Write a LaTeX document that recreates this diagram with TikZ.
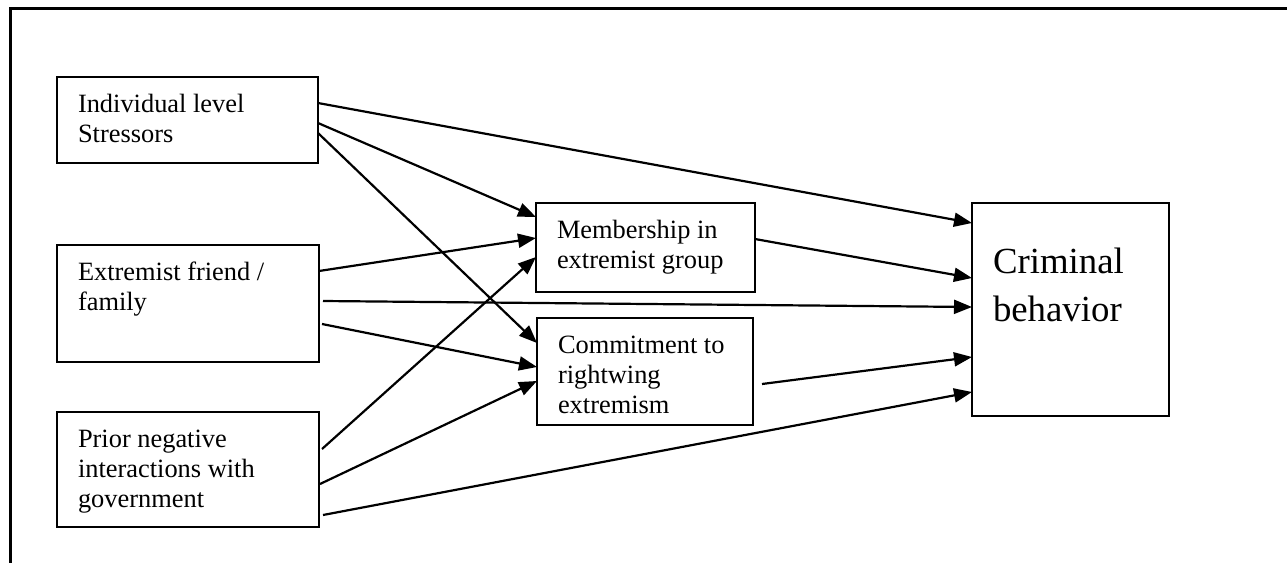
\documentclass[tikz,border=0pt]{standalone}
\usepackage{fontspec}
\setmainfont{Liberation Serif}
\usetikzlibrary{arrows.meta,calc}

% text block of a factor box: width, height, first-baseline depth, lines
\newcommand{\boxlines}[4]{\parbox[c][#2][t]{#1}{\raggedright\rule{0pt}{#3}#4}}

\tikzset{
  frame/.style={line width=1.5pt},
  factor/.style={draw, line width=1pt, anchor=north west, outer sep=0pt,
    inner xsep=10.5pt, inner ysep=0pt, font=\fontsize{13.2}{15}\selectfont},
  outcome/.style={factor, font=\fontsize{18.4}{24}\selectfont},
  link/.style={line width=1.1pt, -{Triangle[length=9pt,width=7pt]}},
}

\begin{document}
\begin{tikzpicture}[x=0.5pt,y=-0.5pt]
\useasboundingbox (0,0) rectangle (1287,563);

% page frame
\draw[frame] (10,563) -- (10,8) -- (1287,8);

% predictors
\node[factor] (stress) at (57,77)
  {\boxlines{109.5pt}{43pt}{17.5pt}{Individual level\\Stressors}};
\node[factor] (friend) at (57,245)
  {\boxlines{110pt}{58.5pt}{17.5pt}{Extremist friend /\\family}};
\node[factor] (prior) at (57,412)
  {\boxlines{110pt}{57.5pt}{17.5pt}{Prior negative\\interactions with\\government}};

% mediators
\node[factor] (member) at (536,203)
  {\boxlines{88.5pt}{44.5pt}{17.5pt}{Membership in\\extremist group}};
\node[factor] (commit) at (537,318)
  {\boxlines{87pt}{53.5pt}{17.5pt}{Commitment to\\rightwing\\extremism}};

% outcome
\node[outcome] (crime) at (972,203)
  {\boxlines{77.5pt}{106.5pt}{35pt}{Criminal\\behavior}};

% paths from individual level stressors
\draw[link] ($(stress.north east)+(0,26)$) -- ($(crime.north west)+(0,20)$);
\draw[link] ($(stress.north east)+(0,46)$) -- ($(member.north west)+(0,14)$);
\draw[link] ($(stress.north east)+(0,56)$) -- ($(commit.north west)+(0,25)$);

% paths from extremist friend / family
\draw[link] ($(friend.north east)+(0,26)$) -- ($(member.north west)+(0,35)$);
\draw[link] ($(friend.north east)+(4,56)$) -- ($(crime.north west)+(0,104)$);
\draw[link] ($(friend.north east)+(3,79)$) -- ($(commit.north west)+(0,49)$);

% paths from prior negative interactions
\draw[link] ($(prior.north east)+(3,37)$) -- ($(member.north west)+(0,54)$);
\draw[link] ($(prior.north east)+(1,72)$) -- ($(commit.north west)+(0,63)$);
\draw[link] ($(prior.north east)+(4,103)$) -- ($(crime.north west)+(0,189)$);

% paths from the mediators
\draw[link] ($(member.north east)+(0,36)$) -- ($(crime.north west)+(0,75)$);
\draw[link] ($(commit.north east)+(9,66)$) -- ($(crime.north west)+(0,154)$);
\end{tikzpicture}
\end{document}
